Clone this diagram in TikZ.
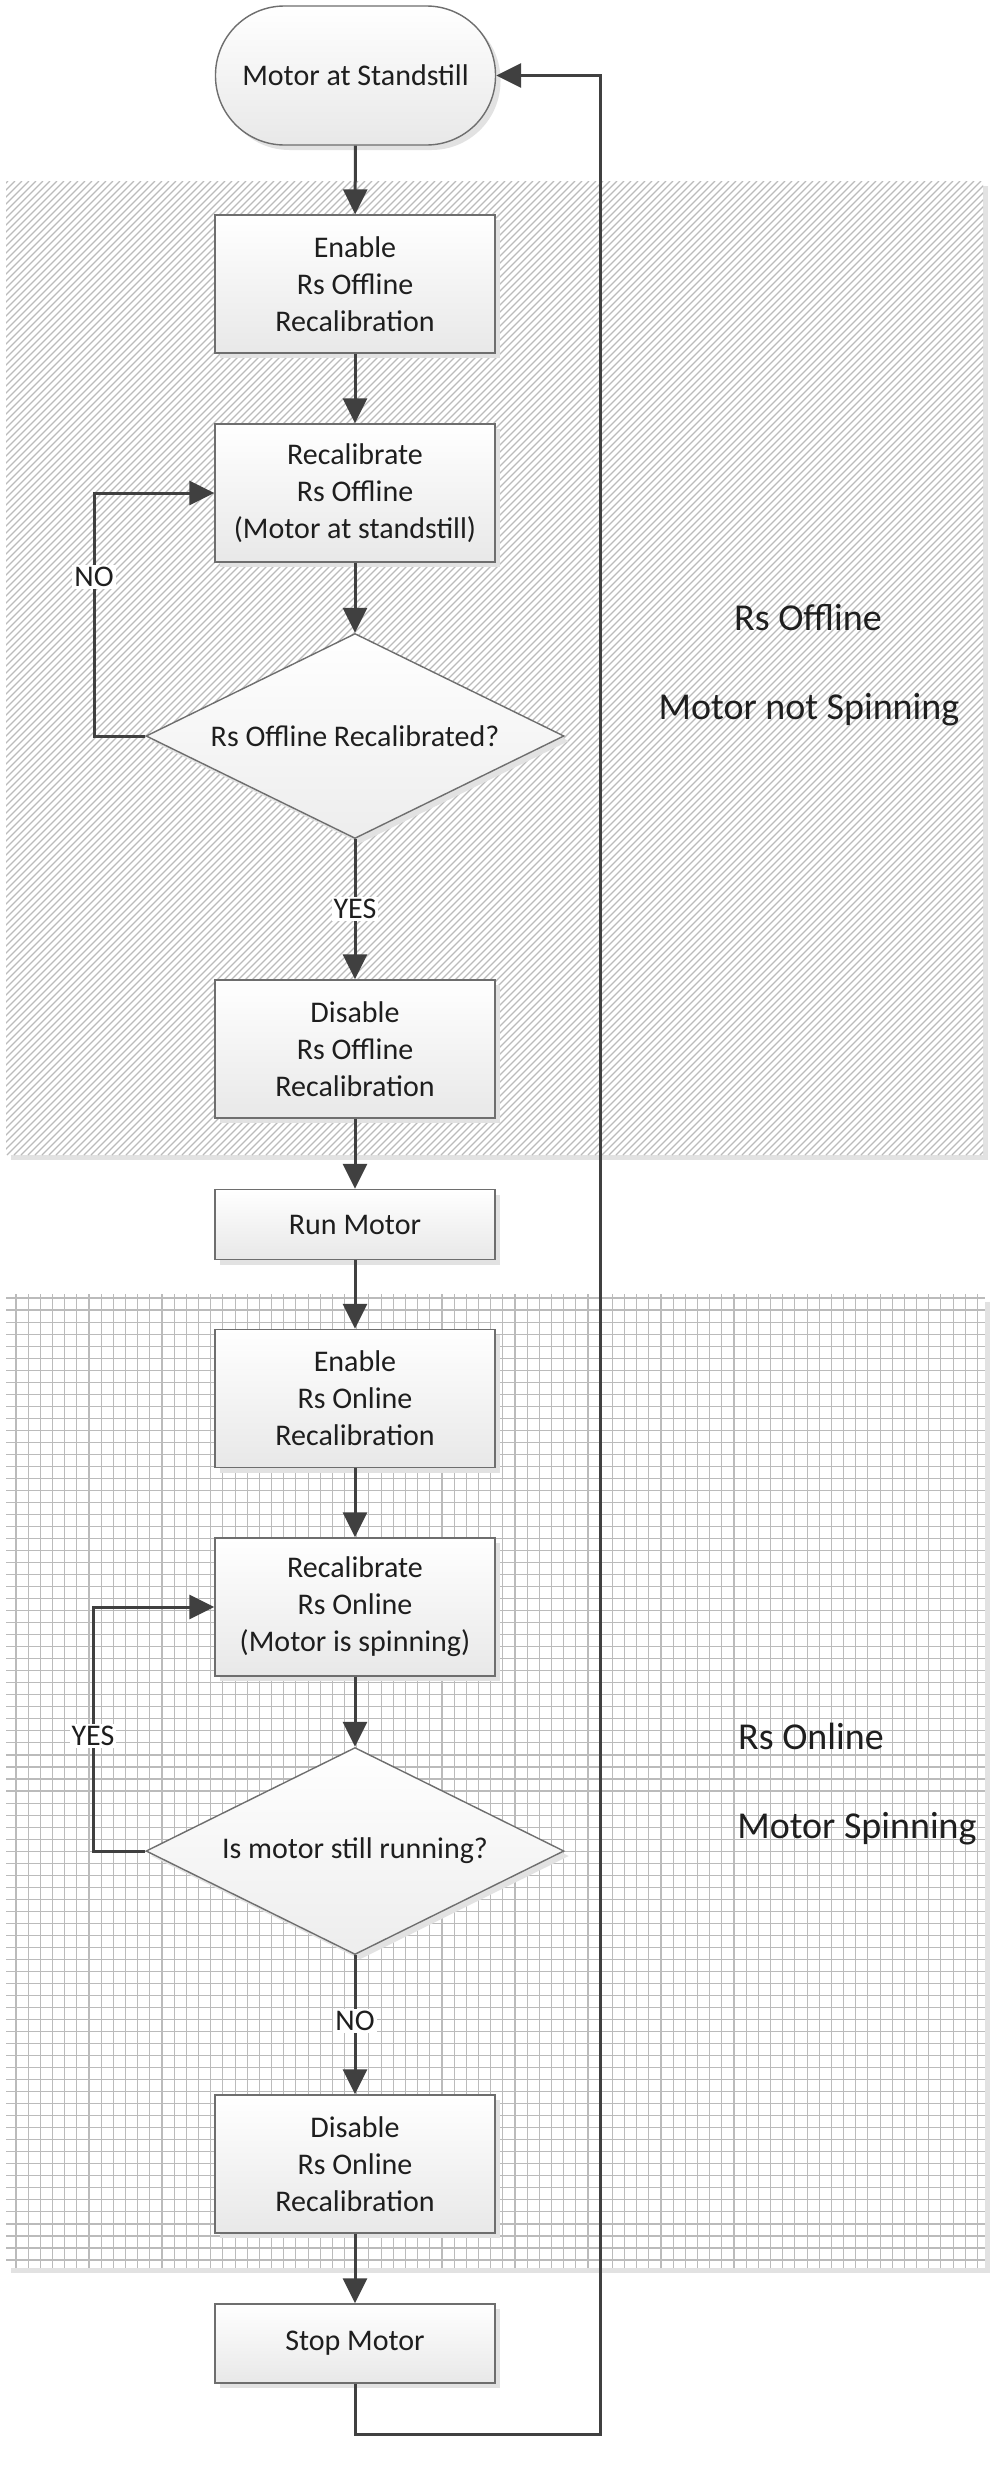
\documentclass[tikz,border=0pt]{standalone}
\usepackage{fontspec}
\setmainfont{Carlito}
\usetikzlibrary{arrows.meta,shapes.geometric,shadows}
\definecolor{arrowc}{HTML}{404040}
\definecolor{borderc}{HTML}{6E6E6E}
\definecolor{txtc}{HTML}{1E1E1E}
\definecolor{patc}{HTML}{BBBBBB}
\definecolor{shadc}{HTML}{E2E2E2}
\begin{document}
\begin{tikzpicture}[x=1pt,y=-1pt,
  txt/.style={text=txtc, font=\fontsize{30}{37}\selectfont},
  big/.style={text=txtc, font=\fontsize{38}{46}\selectfont},
  boxshadow/.style={drop shadow={shadow xshift=5pt,shadow yshift=-5pt,fill=shadc,opacity=1}},
  proc/.style={txt, draw=borderc, line width=1.4pt, top color=white, bottom color=black!9,
     minimum width=280pt, minimum height=138pt, align=center, inner sep=0pt, boxshadow},
  term/.style={proc, rounded corners=69pt, minimum height=139pt},
  decision/.style={txt, diamond, draw=borderc, line width=1.4pt, top color=white, bottom color=black!7,
     minimum width=418pt, minimum height=205pt, aspect=2.04, inner sep=0pt, boxshadow},
  arr/.style={draw=arrowc, line width=3pt, line join=miter, -{Triangle[length=25pt,width=24pt]}},
  lbl/.style={txt, fill=white, inner sep=2pt},
  patline/.style={draw=patc, line width=1.1pt}
]
\useasboundingbox (0,0) rectangle (994,2468);
\fill[white] (0,0) rectangle (994,2468);

% hatched region (Rs Offline)
\fill[shadc] (11,186) rectangle (988,1160);
\fill[white] (6,181) rectangle (983,1155);
\begin{scope}
\clip (6,181) rectangle (983,1155);
\foreach \t in {-980,-973,...,990} \draw[patline] (\t,1155) -- (\t+974,181);
\end{scope}

% grid region (Rs Online)
\fill[shadc] (11,1302) rectangle (990,2273);
\fill[white] (6,1297) rectangle (985,2268);
\begin{scope}
\clip (6,1294) rectangle (985,2268);
\foreach \i in {0,...,79} \draw[patline] (16+12.17*\i,1294) -- (16+12.17*\i,2268);
\foreach \i in {0,...,80} \draw[patline] (6,1298+12.025*\i) -- (985,1298+12.025*\i);
\end{scope}

% side labels
\node[big] (offA) at (808,618) {Rs Offline};
\node[big] (offB) at (809,710) {Motor not Spinning};
\node[big] (onA) at (811,1736) {Rs Online};
\node[big] (onB) at (857,1829) {Motor Spinning};

% nodes
\node[term] (start) at (355.5,75.5) {Motor at Standstill};
\node[proc] (en1) at (355,284) {Enable\\Rs Offline\\Recalibration};
\node[proc] (rc1) at (355,493) {Recalibrate\\Rs Offline\\(Motor at standstill)};
\node[decision] (d1) at (355,736) {Rs Offline Recalibrated?};
\node[proc] (dis1) at (355,1049) {Disable\\Rs Offline\\Recalibration};
\node[proc, minimum height=70pt] (run) at (355,1224.5) {Run Motor};
\node[proc] (en2) at (355,1398.5) {Enable\\Rs Online\\Recalibration};
\node[proc] (rc2) at (355,1607) {Recalibrate\\Rs Online\\(Motor is spinning)};
\node[decision, minimum height=207pt] (d2) at (355,1851) {Is motor still running?};
\node[proc] (dis2) at (355,2164) {Disable\\Rs Online\\Recalibration};
\node[proc, minimum height=79pt] (stop) at (355,2343.5) {Stop Motor};

\coordinate (r1) at (94,736);
\coordinate (r2) at (93,1851);
\coordinate (b1) at (355,2434);
\coordinate (b2) at (600,2434);
\coordinate (b3) at (600,75.5);

% connectors
\draw[arr] (start) -- (en1);
\draw[arr] (en1) -- (rc1);
\draw[arr] (rc1) -- (d1);
\draw[arr] (d1) -- (dis1);
\draw[arr] (d1.west) -- (r1) |- (rc1.west);
\draw[arr] (dis1) -- (run);
\draw[arr] (run) -- (en2);
\draw[arr] (en2) -- (rc2);
\draw[arr] (rc2) -- (d2);
\draw[arr] (d2) -- (dis2);
\draw[arr] (d2.west) -- (r2) |- (rc2.west);
\draw[arr] (dis2) -- (stop);
\draw[arr] (stop.south) -- (b1) -- (b2) -- (b3) -- (start.east);

% connector labels
\node[lbl] (no1) at (94,577) {NO};
\node[lbl] (yes1) at (355,909) {YES};
\node[lbl] (yes2) at (93,1736) {YES};
\node[lbl] (no2) at (355,2021) {NO};
\end{tikzpicture}
\end{document}
